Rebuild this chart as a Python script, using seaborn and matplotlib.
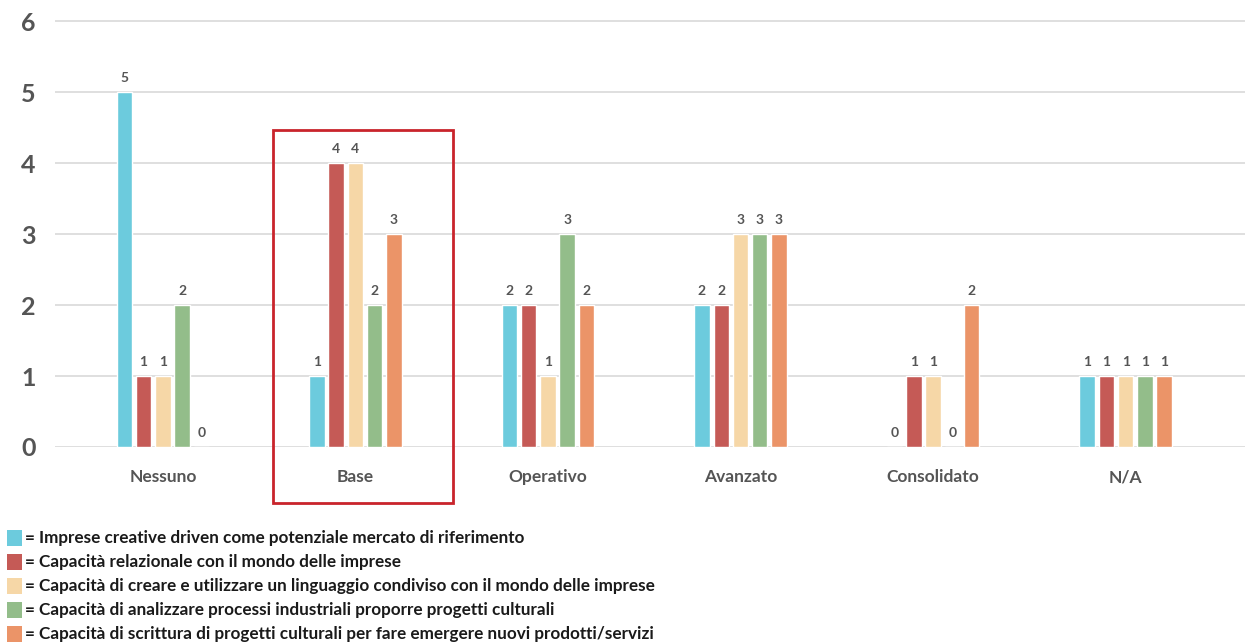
import matplotlib
matplotlib.use("Agg")
import matplotlib.pyplot as plt
from matplotlib.patches import Rectangle
import seaborn as sns
import pandas as pd

# Livelli di competenza (asse x)
livelli = ["Nessuno", "Base", "Operativo", "Avanzato", "Consolidato", "N/A"]

# Serie
serie = [
    "Imprese creative driven come potenziale mercato di riferimento",
    "Capacità relazionale con il mondo delle imprese",
    "Capacità di creare e utilizzare un linguaggio condiviso con il mondo delle imprese",
    "Capacità di analizzare processi industriali proporre progetti culturali",
    "Capacità di scrittura di progetti culturali per fare emergere nuovi prodotti/servizi",
]

imprese_creative = [5, 1, 2, 2, 0, 1]
capacita_relazionale = [1, 4, 2, 2, 1, 1]
linguaggio_condiviso = [1, 4, 1, 3, 1, 1]
processi_industriali = [2, 2, 3, 3, 0, 1]
scrittura_progetti = [0, 3, 2, 3, 2, 1]

colori = ["#6ccbdd", "#c55a56", "#f6d7a7", "#93bd8a", "#eb9468"]
y_ticks = [0, 1, 2, 3, 4, 5, 6]

valori = [imprese_creative, capacita_relazionale, linguaggio_condiviso,
          processi_industriali, scrittura_progetti]
rows = []
for nome, vals in zip(serie, valori):
    for liv, v in zip(livelli, vals):
        rows.append({"livello": liv, "serie": nome, "valore": v})
df = pd.DataFrame(rows)

sns.set_theme(style="white")
plt.rcParams["font.family"] = ["Lato", "DejaVu Sans"]

W, H = 1245, 642
fig = plt.figure(figsize=(W / 100, H / 100), dpi=100)
ax = fig.add_axes([55 / W, 1 - 447 / H, (W - 55) / W, (447 - 19) / H])

sns.barplot(data=df, x="livello", y="valore", hue="serie", order=livelli,
            hue_order=serie, palette=colori, saturation=1, width=0.5, gap=0.2,
            legend=False, ax=ax)

for cont in ax.containers:
    ax.bar_label(cont, fmt="%d", padding=6, fontsize=10, color="#555555",
                 fontweight="bold")

ax.set_ylim(0, 6.03)
ax.set_xlim(-0.56, 5.62)
ax.set_yticks(y_ticks)
ax.yaxis.grid(True, color="#dcdcdc", linewidth=1.3)
ax.set_axisbelow(True)
for s in ax.spines.values():
    s.set_visible(False)
ax.set_xlabel("")
ax.set_ylabel("")
ax.tick_params(axis="y", length=0, pad=14, labelsize=18, labelcolor="#555555")
ax.tick_params(axis="x", length=0, pad=16, labelsize=12.5, labelcolor="#555555")
for t in ax.get_yticklabels():
    t.set_fontweight("bold")
for t in ax.get_xticklabels():
    t.set_fontweight("bold")

# Riquadro che evidenzia il livello "Base"
ax.add_patch(Rectangle((0.57, -0.79), 0.935, 5.25, fill=False,
                       edgecolor="#c9242b", linewidth=2, clip_on=False))

# Legenda manuale
for i, (nome, col) in enumerate(zip(serie, colori)):
    yc = 538 + 24 * i
    fig.add_artist(Rectangle((7 / W, 1 - (yc + 8) / H), 15 / W, 16 / H,
                             facecolor=col, edgecolor="none",
                             transform=fig.transFigure))
    fig.text(25 / W, 1 - yc / H, "= " + nome, fontsize=12.3, fontweight="bold",
             color="#1a1a1a", va="center", ha="left")

fig.savefig("out.png", dpi=100)
